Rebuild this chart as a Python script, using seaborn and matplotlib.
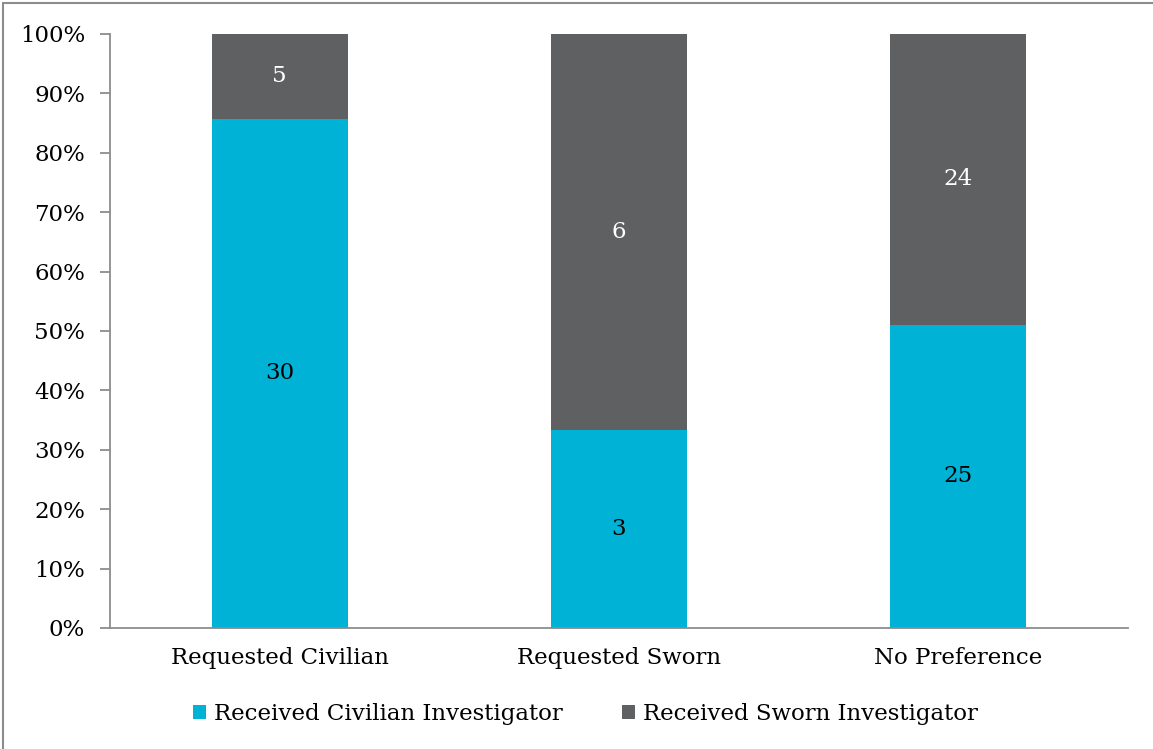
import matplotlib
matplotlib.use("Agg")
import matplotlib.pyplot as plt
from matplotlib.lines import Line2D
from matplotlib.patches import Patch
import seaborn as sns
import pandas as pd

categories = ["Requested Civilian", "Requested Sworn", "No Preference"]
civilian_counts = [30, 3, 25]
sworn_counts = [5, 6, 24]
series_names = ["Received Civilian Investigator", "Received Sworn Investigator"]
y_tick_labels = ["0%", "10%", "20%", "30%", "40%", "50%", "60%", "70%", "80%", "90%", "100%"]

CYAN = "#00B2D6"
GREY = "#5F6062"
AXIS = "#8C8C8C"
FS = 16.5

sns.set_theme(style="white")
plt.rcParams["font.family"] = ["DejaVu Serif"]
plt.rcParams["text.color"] = "black"
plt.rcParams["xtick.color"] = "black"
plt.rcParams["ytick.color"] = "black"

totals = [c + s for c, s in zip(civilian_counts, sworn_counts)]
df = pd.DataFrame({
    "category": categories,
    "civ_share": [c / t * 100 for c, t in zip(civilian_counts, totals)],
    "total_share": [100.0 for _ in totals],
})

fig = plt.figure(figsize=(11.53, 7.49), dpi=100)
ax = fig.add_axes([110 / 1153, 1 - 628 / 749, (1128 - 110) / 1153, (628 - 34) / 749])

sns.barplot(data=df, x="category", y="total_share", color=GREY, width=0.40,
            saturation=1, ax=ax, edgecolor="none")
sns.barplot(data=df, x="category", y="civ_share", color=CYAN, width=0.40,
            saturation=1, ax=ax, edgecolor="none")

# segment count labels
for i, (c, s, row) in enumerate(zip(civilian_counts, sworn_counts, df.itertuples())):
    ax.text(i, row.civ_share / 2, str(c), ha="center", va="center",
            fontsize=FS, color="black")
    ax.text(i, row.civ_share + (100 - row.civ_share) / 2, str(s), ha="center",
            va="center", fontsize=FS, color="white")

ax.set_xlim(-0.5, len(categories) - 0.5)
ax.set_ylim(0, 100)
ax.set_yticks(range(0, 101, 10))
ax.set_yticklabels(y_tick_labels, fontsize=FS)
ax.set_xticks(range(len(categories)))
ax.set_xticklabels(categories, fontsize=FS)
ax.set_xticks([i - 0.5 for i in range(len(categories) + 1)], minor=True)
ax.tick_params(axis="x", which="major", length=0, pad=14)
ax.tick_params(axis="x", which="minor", length=7, width=1.3, color=AXIS, direction="out")
ax.tick_params(axis="y", length=7, width=1.3, color=AXIS, direction="out", pad=11, left=True)
ax.set_xlabel("")
ax.set_ylabel("")
for side in ["top", "right"]:
    ax.spines[side].set_visible(False)
for side in ["left", "bottom"]:
    ax.spines[side].set_color(AXIS)
    ax.spines[side].set_linewidth(1.3)

handles = [Patch(facecolor=CYAN, edgecolor="none"), Patch(facecolor=GREY, edgecolor="none")]
fig.legend(handles, series_names, loc="center", bbox_to_anchor=(0.508, 1 - 714 / 749),
           ncol=2, frameon=False, fontsize=FS, handlelength=0.55, handleheight=0.55,
           handletextpad=0.35, columnspacing=2.6)

# outer frame lines on the left and top
fig.add_artist(Line2D([3 / 1153, 3 / 1153], [0, 1 - 3 / 749], transform=fig.transFigure,
                      color=AXIS, linewidth=1.5))
fig.add_artist(Line2D([3 / 1153, 1], [1 - 3 / 749, 1 - 3 / 749], transform=fig.transFigure,
                      color=AXIS, linewidth=1.5))

fig.savefig("out.png", dpi=100)
